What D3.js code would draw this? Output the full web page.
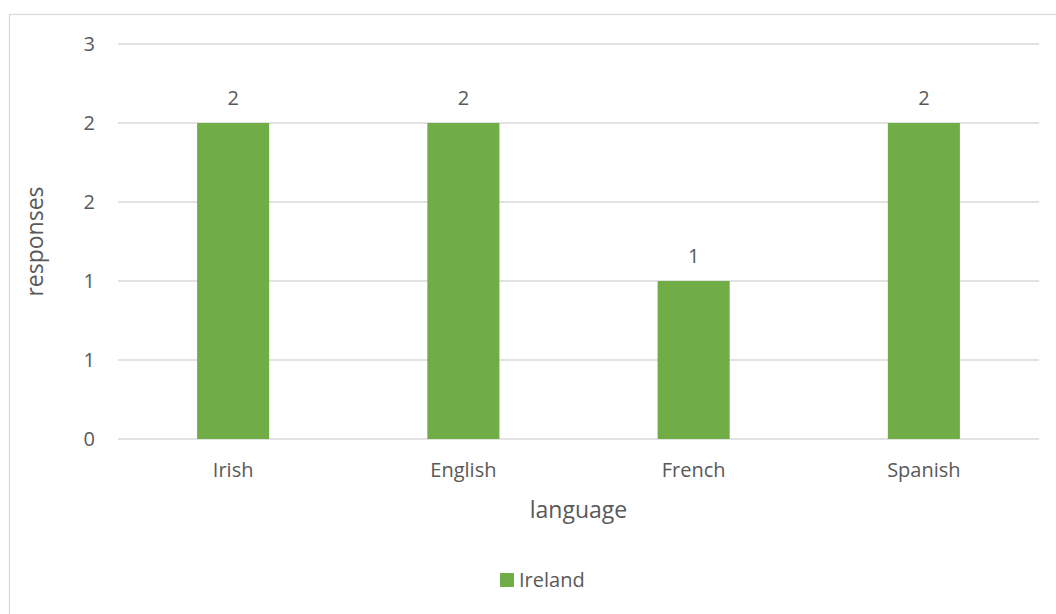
<!DOCTYPE html>
<html>
<head>
<meta charset="utf-8">
<script src="https://cdn.jsdelivr.net/npm/d3@7"></script>
<style>
  html, body { margin: 0; padding: 0; background: #fff; }
  svg { display: block; }
  text { font-family: "Open Sans", "Noto Sans", sans-serif; fill: #595959; }
</style>
</head>
<body>
<svg id="chart" width="1056" height="614"></svg>
<script>
// Responses per language
const categories = ["Irish", "English", "French", "Spanish"];
const values = [2.4, 2.4, 1.2, 2.4];
const seriesName = "Ireland";
const yTicks = [0, 0.6, 1.2, 1.8, 2.4, 3.0];
const xTitle = "language";
const yTitle = "responses";

const W = 1056, H = 614;
const margin = { left: 118, right: 17, top: 44, bottom: 175 };
const fmt = d3.format(".0f");

const svg = d3.select("#chart");

// chart frame
svg.append("rect")
  .attr("x", 9.5).attr("y", 14.5)
  .attr("width", W + 10).attr("height", H + 10)
  .attr("fill", "none").attr("stroke", "#d9d9d9").attr("stroke-width", 1.3);

const x = d3.scaleBand()
  .domain(categories)
  .range([margin.left, W - margin.right])
  .padding(0);

const y = d3.scaleLinear()
  .domain([0, 3])
  .range([H - margin.bottom, margin.top]);

// gridlines
svg.append("g")
  .selectAll("line")
  .data(yTicks)
  .join("line")
  .attr("x1", margin.left).attr("x2", W - margin.right)
  .attr("y1", d => y(d)).attr("y2", d => y(d))
  .attr("stroke", "#d9d9d9").attr("stroke-width", 1.5);

// y axis labels
const yAxis = d3.axisLeft(y).tickValues(yTicks).tickFormat(fmt).tickSize(0).tickPadding(23);
const gy = svg.append("g").attr("transform", `translate(${margin.left},0)`).call(yAxis);
gy.select(".domain").remove();
gy.attr("font-size", null).attr("font-family", null);
gy.selectAll("text").style("font-size", "20px").style("fill", "#595959");

// x axis labels
const xAxis = d3.axisBottom(x).tickSize(0).tickPadding(24);
const gx = svg.append("g").attr("transform", `translate(0,${y(0)})`).call(xAxis);
gx.select(".domain").remove();
gx.attr("font-size", null).attr("font-family", null);
gx.selectAll("text").style("font-size", "20px").style("fill", "#595959");

// bars
const barW = x.bandwidth() * 0.313;
svg.append("g")
  .selectAll("rect")
  .data(categories)
  .join("rect")
  .attr("x", (d) => x(d) + x.bandwidth() / 2 - barW / 2)
  .attr("width", barW)
  .attr("y", (d, i) => y(values[i]))
  .attr("height", (d, i) => y(0) - y(values[i]))
  .attr("fill", "#70ad47");

// value labels
svg.append("g")
  .selectAll("text")
  .data(categories)
  .join("text")
  .attr("x", d => x(d) + x.bandwidth() / 2)
  .attr("y", (d, i) => y(values[i]) - 18)
  .attr("text-anchor", "middle")
  .style("font-size", "20px")
  .text((d, i) => fmt(values[i]));

// axis titles
svg.append("text")
  .attr("x", (margin.left + W - margin.right) / 2)
  .attr("y", 518)
  .attr("text-anchor", "middle")
  .style("font-size", "23px")
  .text(xTitle);

svg.append("text")
  .attr("transform", `translate(43,${(y(0) + y(3)) / 2}) rotate(-90)`)
  .attr("text-anchor", "middle")
  .style("font-size", "23px")
  .text(yTitle);

// legend
const lg = svg.append("g").attr("transform", "translate(500,573)");
lg.append("rect").attr("width", 14).attr("height", 14).attr("fill", "#70ad47");
lg.append("text").attr("x", 19).attr("y", 14).style("font-size", "20px").text(seriesName);
</script>
</body>
</html>
